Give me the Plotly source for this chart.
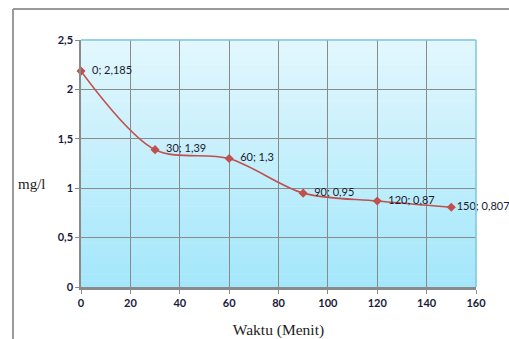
import plotly.graph_objects as go

waktu = [0, 30, 60, 90, 120, 150]
kadar = [2.185, 1.39, 1.3, 0.95, 0.87, 0.807]
label_text = ["0; 2,185", "30; 1,39", "60; 1,3", "90; 0,95", "120; 0,87", "150; 0,807"]
x_ticks = [0, 20, 40, 60, 80, 100, 120, 140, 160]
y_ticks = [0, 0.5, 1, 1.5, 2, 2.5]
y_tick_labels = ["0", "0,5", "1", "1,5", "2", "2,5"]

W, H = 509, 339
L, R, T, B = 81, 509 - 476, 40, 339 - 287
pw, ph = W - L - R, H - T - B

def px_x(p):
    return (p - L) / pw

def px_y(p):
    return (H - B - p) / ph

pads = ["  "] * (len(label_text) - 1) + [""]
fig = go.Figure()
fig.add_trace(go.Scatter(
    x=waktu, y=kadar, mode="lines+markers+text",
    line=dict(color="#c0504d", width=1.6, shape="spline", smoothing=0.9),
    marker=dict(symbol="diamond", size=7, color="#c0504d"),
    text=[p + t for p, t in zip(pads, label_text)], textposition="middle right",
    textfont=dict(family="Lato, Open Sans, sans-serif", size=11, color="#1a1a2e"),
    cliponaxis=False, showlegend=False, hoverinfo="skip",
))

shapes = []
n = 40
top = (0xe2, 0xf7, 0xfd)
bot = (0xa4, 0xe7, 0xfb)
for i in range(n):
    f = i / (n - 1)
    c = tuple(round(bot[k] + (top[k] - bot[k]) * f) for k in range(3))
    shapes.append(dict(type="rect", xref="x domain", yref="y domain",
                       x0=0, x1=1, y0=i / n, y1=(i + 1) / n + 0.002,
                       fillcolor="rgb(%d,%d,%d)" % c, line=dict(width=0), layer="below"))
shapes.append(dict(type="line", xref="x domain", yref="y domain", x0=0, x1=1, y0=1, y1=1,
                   line=dict(color="#7cc6da", width=1.5)))
shapes.append(dict(type="line", xref="x domain", yref="y domain", x0=1, x1=1, y0=0, y1=1,
                   line=dict(color="#7cc6da", width=1.5)))
shapes.append(dict(type="line", xref="paper", yref="paper", x0=px_x(13), x1=px_x(520),
                   y0=px_y(9), y1=px_y(9), line=dict(color="#9a9a9a", width=2)))
shapes.append(dict(type="line", xref="paper", yref="paper", x0=px_x(13), x1=px_x(13),
                   y0=px_y(9), y1=px_y(350), line=dict(color="#9a9a9a", width=2)))

tickfont = dict(family="Lato, Open Sans, sans-serif", size=11, color="#1a1a3a", weight="bold")
fig.update_layout(
    width=W, height=H,
    margin=dict(l=L, r=R, t=T, b=B, autoexpand=False),
    paper_bgcolor="white", plot_bgcolor="rgba(0,0,0,0)",
    shapes=shapes,
    xaxis=dict(range=[0, 160], tickvals=x_ticks, showgrid=True, gridcolor="#8a8a8a", gridwidth=1.3,
               zeroline=False, showline=True, linecolor="#8a8a8a", linewidth=2.5,
               ticks="outside", ticklen=4, tickcolor="#8a8a8a", automargin=False,
               tickfont=tickfont,
               title=dict(text="Waktu (Menit)", font=dict(family="Liberation Serif, serif", size=15.5, color="#222"),
                          standoff=17)),
    yaxis=dict(range=[0, 2.5], tickvals=y_ticks, ticktext=y_tick_labels, showgrid=True,
               gridcolor="#8a8a8a", gridwidth=1.3, zeroline=False, showline=True, automargin=False,
               linecolor="#8a8a8a", linewidth=1.5, ticks="outside", ticklen=4, tickcolor="#8a8a8a",
               tickfont=tickfont),
    annotations=[dict(text="mg/l", xref="paper", yref="paper", x=px_x(32), y=px_y(184),
                      xanchor="center", yanchor="middle",
                      showarrow=False, font=dict(family="Liberation Serif, serif", size=15, color="#222"))],
)

fig.write_html("out.html", config={"displayModeBar": False},
               post_script="document.body.style.margin='0';document.body.style.overflow='hidden';")
